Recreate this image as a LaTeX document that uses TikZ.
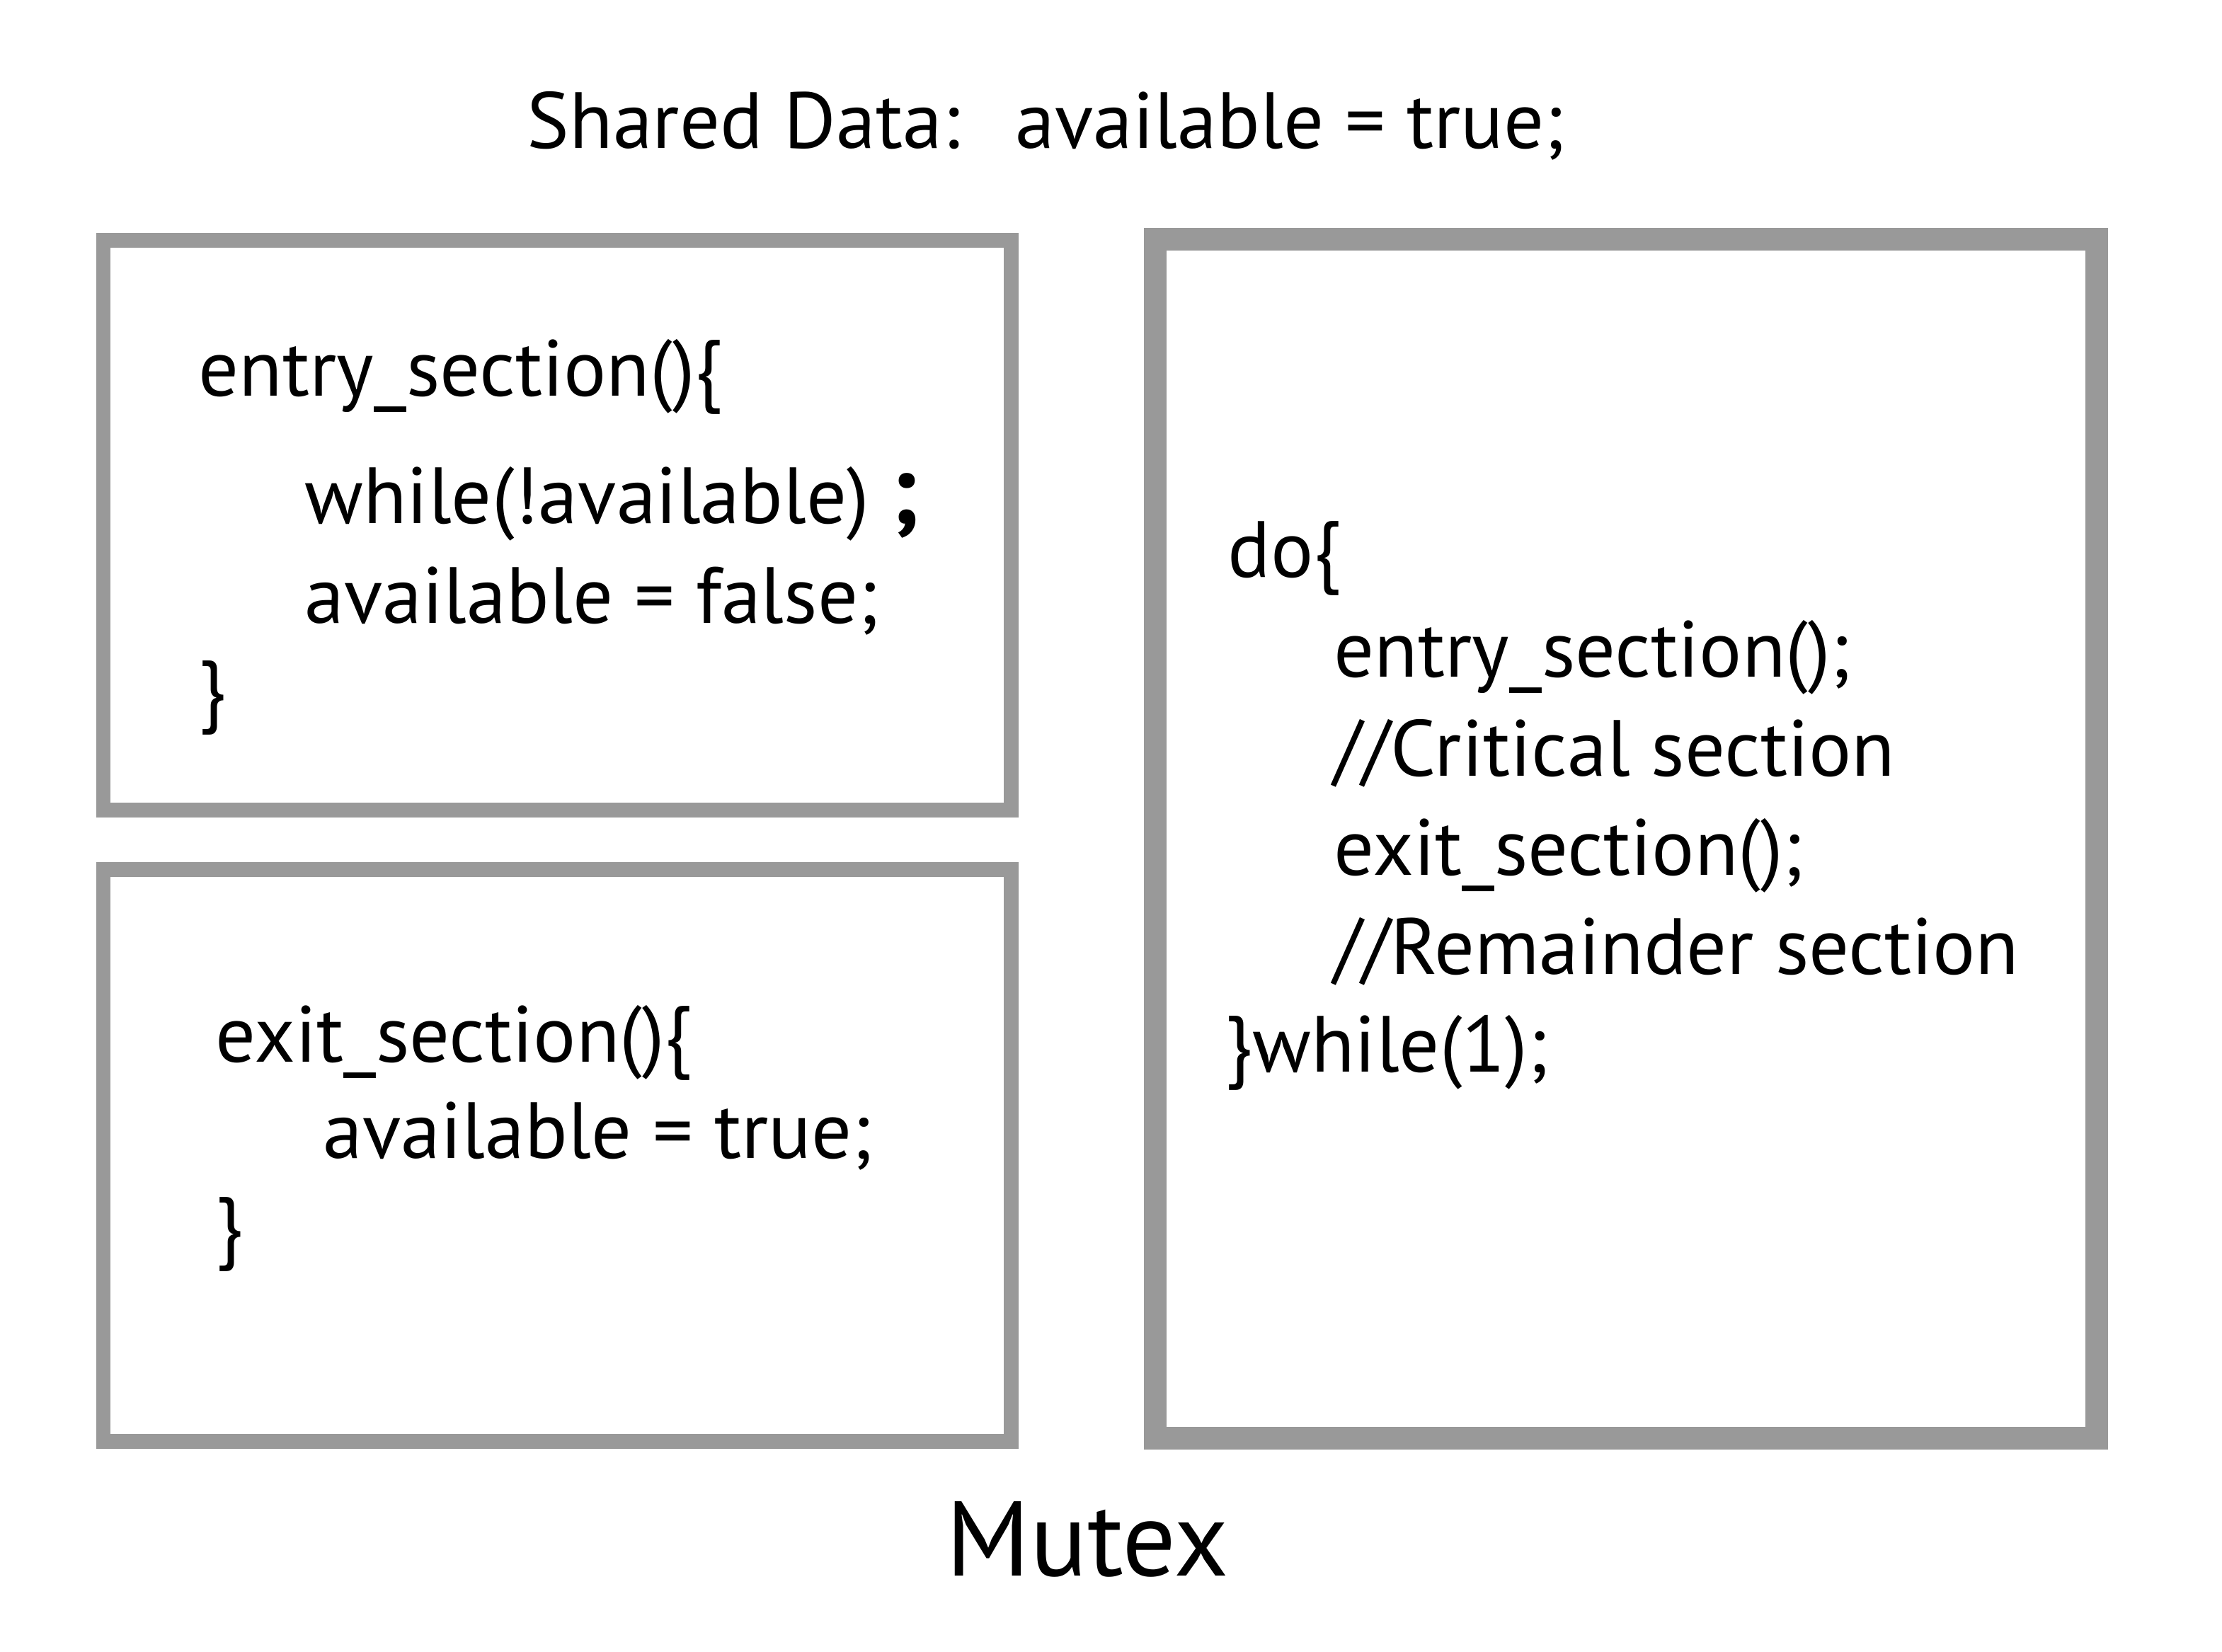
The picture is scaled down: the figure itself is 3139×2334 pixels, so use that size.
\documentclass[tikz,border=0pt]{standalone}
\usepackage{fontspec}
\setmainfont{PT Sans}
\usetikzlibrary{positioning}
\definecolor{boxgray}{gray}{0.6}

\tikzset{
  codebox/.style={draw=boxgray, line width=5.97pt},
  loopbox/.style={draw=boxgray, line width=9.1pt},
  code/.style={anchor=base west, inner sep=0pt, font=\fontsize{32}{38}\selectfont},
  caption/.style={anchor=base, inner sep=0pt, font=\fontsize{42.7}{48}\selectfont},
}

\begin{document}
\begin{tikzpicture}[x=0.01cm,y=-0.01cm]
  \useasboundingbox (0,0) rectangle (3139,2334); % page size of the reference

  % shared variable
  \node[code] (shared) at (744,210) {Shared Data:};
  \node[code] (sharedval) at (1434,210) {available = true;};

  % entry section box
  \draw[codebox] (146,340) rectangle (1428,1144);
  \node[code] (entry) at (280,560) {entry\_section()\{};
  \node[code] (entrywait) at (430,740) {while(!available) {\bfseries\fontsize{40}{40}\selectfont;}};
  \node[code] (entryset) at (430,880) {available = false;};
  \node[code] (entryend) at (280,1012) {\}};

  % exit section box
  \draw[codebox] (146,1228) rectangle (1428,2036);
  \node[code] (exit) at (304,1500) {exit\_section()\{};
  \node[code] (exitset) at (456,1636) {available = true;};
  \node[code] (exitend) at (304,1770) {\}};

  % process loop box
  \draw[loopbox] (1632,338) rectangle (2962,2032);
  \node[code] (loopdo) at (1734,816) {do\{};
  \foreach \txt [count=\i] in {entry\_section();, //Critical section, exit\_section();, //Remainder section}
    \node[code] (loop\i) at (1884,816+140*\i) {\txt};
  \node[code] (loopend) at (1730,1514) {\}while(1);};

  \node[caption] (title) at (1536,2226) {Mutex};
\end{tikzpicture}
\end{document}
